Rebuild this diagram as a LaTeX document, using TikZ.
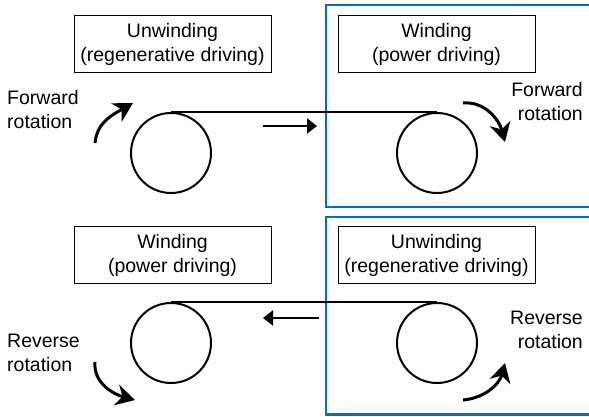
\documentclass[tikz,border=0pt]{standalone}
\usepackage{fontspec}
\setmainfont{Liberation Sans}
\usetikzlibrary{arrows.meta,positioning,calc}
\definecolor{zoneblue}{RGB}{0,112,192}

\begin{document}
\begin{tikzpicture}[x=1pt, y=1pt,
    labelbox/.style={draw, line width=1pt, minimum width=197pt, minimum height=57pt, inner sep=0pt, align=center, font=\fontsize{19.5}{24}\selectfont},
    roll/.style={draw, circle, line width=2pt, minimum size=80pt, inner sep=0pt},
    rottext/.style={inner sep=0pt, font=\fontsize{19.5}{24}\selectfont},
    rotarrow/.style={line width=3pt, -{Stealth[length=19pt, width=21pt, inset=6pt]}},
    feedarrow/.style={line width=2pt, -{Triangle[length=10pt, width=15pt]}},
    zone/.style={draw=zoneblue, line width=2.5pt}]
    \useasboundingbox (0,0) rectangle (589,416);

    % Power driving zones
    \draw[zone] (326,209) rectangle (600,411);
    \draw[zone] (326,1.5) rectangle (600,199);

    % Upper line: forward rotation
    \node[labelbox] (unwtop) at (172.5,371.5) {Unwinding\\(regenerative driving)};
    \node[labelbox] (wintop) at (436.5,371.5) {Winding\\(power driving)};
    \node[roll] (rolltl) at (171,263) {};
    \node[roll] (rolltr) at (437,263) {};
    \draw[line width=1.8pt] (rolltl.north) -- (rolltr.north);
    \coordinate (feedtopA) at (263,290);
    \coordinate (feedtopB) at (317,290);
    \draw[feedarrow] (feedtopA) -- (feedtopB);

    \node[rottext, anchor=west, align=left] (fwdl) at (7,306) {Forward\\rotation};
    \node[rottext, anchor=east, align=right] (fwdr) at (583,314.5) {Forward\\rotation};
    \coordinate (tlA) at (95,273);
    \coordinate (tlB) at (133,313);
    \draw[rotarrow] (tlA) to[out=85, in=210] (tlB);
    \coordinate (trA) at (463,313);
    \coordinate (trB) at (505,274);
    \draw[rotarrow] (trA) to[out=5, in=105] (trB);

    % Lower line: reverse rotation
    \node[labelbox] (winbot) at (172.5,161) {Winding\\(power driving)};
    \node[labelbox] (unwbot) at (436.5,161) {Unwinding\\(regenerative driving)};
    \node[roll] (rollbl) at (171,73) {};
    \node[roll] (rollbr) at (437,73) {};
    \draw[line width=1.8pt] (rollbl.north) -- (rollbr.north);
    \coordinate (feedbotA) at (319,98);
    \coordinate (feedbotB) at (263,98);
    \draw[feedarrow] (feedbotA) -- (feedbotB);

    \node[rottext, anchor=west, align=left] (revl) at (7,63) {Reverse\\rotation};
    \node[rottext, anchor=east, align=right] (revr) at (583,86.5) {Reverse\\rotation};
    \coordinate (blA) at (95,54);
    \coordinate (blB) at (135,16);
    \draw[rotarrow] (blA) to[out=-95, in=165] (blB);
    \coordinate (brA) at (463,16);
    \coordinate (brB) at (505,53);
    \draw[rotarrow] (brA) to[out=5, in=-105] (brB);
\end{tikzpicture}
\end{document}
